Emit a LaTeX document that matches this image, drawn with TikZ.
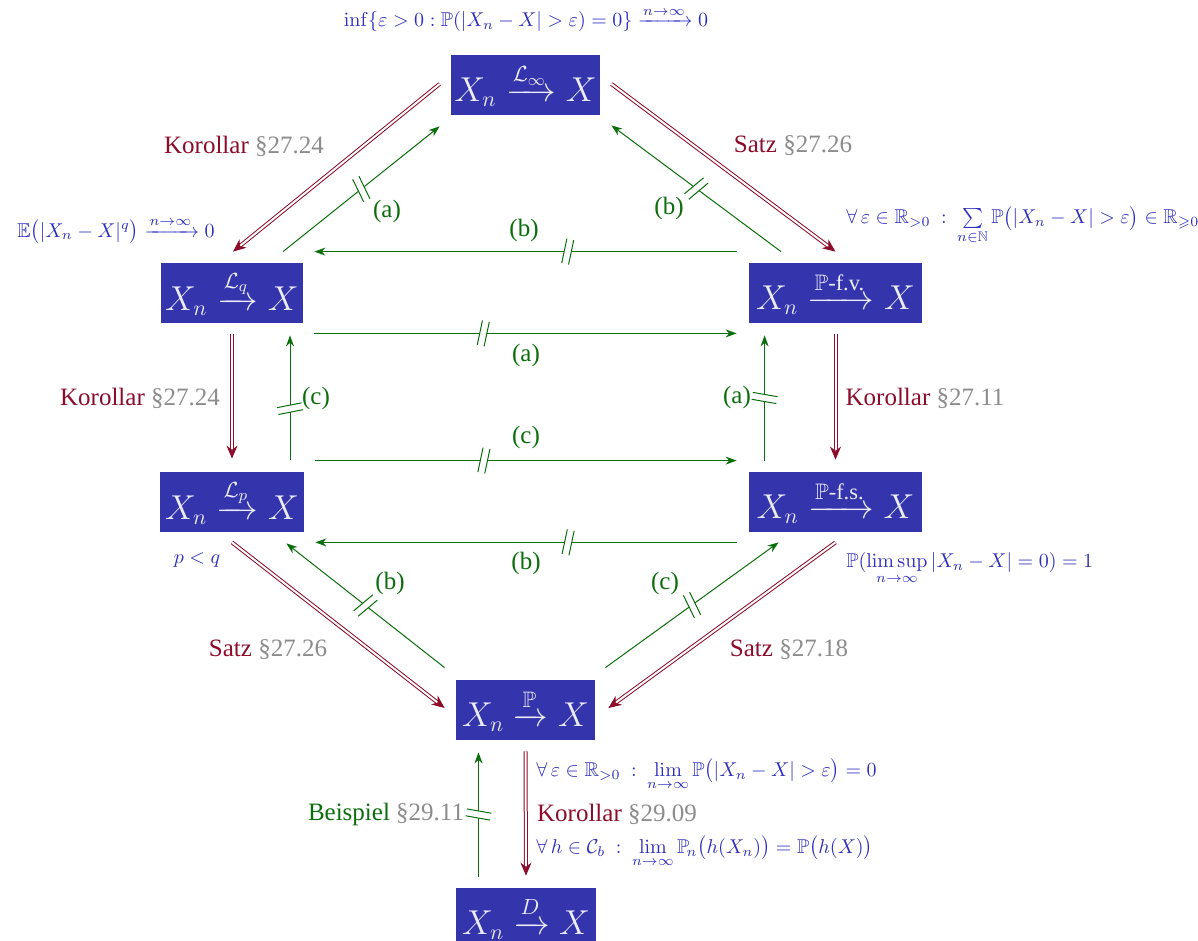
\documentclass[tikz,border=0pt]{standalone}
\usepackage{amsmath,amssymb}
\usepackage[no-math]{fontspec}
\setmainfont{Liberation Serif}
\usetikzlibrary{arrows.meta,calc}
\definecolor{boxblue}{RGB}{52,52,172}
\definecolor{boxtext}{RGB}{236,236,248}
\definecolor{annblue}{RGB}{45,45,190}
\definecolor{darkred}{RGB}{140,12,42}
\definecolor{paragray}{RGB}{140,140,140}
\definecolor{dgreen}{RGB}{10,110,10}
\tikzset{
  cbox/.style={fill=boxblue, text=boxtext, minimum height=30pt, minimum width=#1,
    inner xsep=1pt, inner ysep=1pt, font=\fontsize{16}{19}\selectfont},
  ann/.style={text=annblue, font=\normalsize, inner sep=0pt},
  reflabel/.style={font=\fontsize{12.5}{15}\selectfont, inner sep=0pt},
  glabel/.style={text=dgreen, font=\fontsize{12.5}{15}\selectfont, inner sep=0pt},
  redarr/.style={draw=darkred, double=white, double distance=1pt, line width=0.5pt,
    -{Stealth[length=6.5pt,width=5.5pt]}},
  grarr/.style={draw=dgreen, line width=0.5pt, -{Stealth[length=5.5pt,width=4pt]}},
  pics/notmark/.style={code={
    \fill[white, draw=none, rotate=#1] (-12.5,-3.5) rectangle (12.5,3.5);
    \draw[-, dgreen, line width=0.5pt, rotate=#1] (-12.5,-3.5) -- (12.5,-3.5) (-12.5,3.5) -- (12.5,3.5);
  }}
}
\newcommand{\refl}[2]{\textcolor{darkred}{#1} \textcolor{paragray}{\S#2}}
\begin{document}
\begin{tikzpicture}[x=0.5pt, y=-0.5pt]
\useasboundingbox (0,0) rectangle (1198,941);
% boxes
\node[cbox=74.5pt] (top) at (525.5,85) {$X_n \xrightarrow{\mathcal{L}_\infty} X$};
\node[cbox=71pt] (lq) at (232,293) {$X_n \xrightarrow{\mathcal{L}_q} X$};
\node[cbox=86.5pt] (pfv) at (835.5,293) {$X_n \xrightarrow{\mathbb{P}\text{-f.v.}} X$};
\node[cbox=72pt] (lp) at (232,502) {$X_n \xrightarrow{\mathcal{L}_p} X$};
\node[cbox=86.5pt] (pfs) at (835.5,502) {$X_n \xrightarrow{\mathbb{P}\text{-f.s.}} X$};
\node[cbox=69.5pt] (pp) at (525.5,710) {$X_n \xrightarrow{\mathbb{P}} X$};
\node[cbox=70pt] (dd) at (526,918) {$X_n \xrightarrow{D} X$};
% annotations
\node[ann, anchor=base] (a1) at (526,27) {$\inf\{\varepsilon>0:\mathbb{P}(|X_n-X|>\varepsilon)=0\}\xrightarrow{n\to\infty}0$};
\node[ann, anchor=base] (a2) at (116,237) {$\mathbb{E}\bigl(|X_n-X|^q\bigr)\xrightarrow{n\to\infty}0$};
\node[ann, anchor=base west] (a3) at (846,224) {$\forall\,\varepsilon\in\mathbb{R}_{>0}\ :\ \sum\limits_{n\in\mathbb{N}}\mathbb{P}\bigl(|X_n-X|>\varepsilon\bigr)\in\mathbb{R}_{\geqslant0}$};
\node[ann, anchor=base] (a4) at (197,563) {$p<q$};
\node[ann, anchor=base west] (a5) at (846,567) {$\mathbb{P}(\limsup\limits_{n\to\infty}|X_n-X|=0)=1$};
\node[ann, anchor=base west] (a6) at (536,776) {$\forall\,\varepsilon\in\mathbb{R}_{>0}\ :\ \lim\limits_{n\to\infty}\mathbb{P}\bigl(|X_n-X|>\varepsilon\bigr)=0$};
\node[ann, anchor=base west] (a7) at (536,853) {$\forall\,h\in\mathcal{C}_b\ :\ \lim\limits_{n\to\infty}\mathbb{P}_{\!n}\bigl(h(X_n)\bigr)=\mathbb{P}\bigl(h(X)\bigr)$};
% red implications
\draw[redarr] ($(top.west)+(-11,-1)$) -- ($(lq.north)+(1,-11)$);
\draw[redarr] ($(top.east)+(11,-1)$) -- ($(pfv.north)+(0,-11)$);
\draw[redarr] ($(lq.south)+(0,11)$) -- ($(lp.north)+(0,-13)$);
\draw[redarr] ($(pfv.south)+(0,11)$) -- ($(pfs.north)+(0,-12)$);
\draw[redarr] ($(lp.south)+(0,10)$) -- ($(pp.west)+(-11,-2)$);
\draw[redarr] ($(pfs.south)+(0,10)$) -- ($(pp.east)+(13,-2)$);
\draw[redarr] ($(pp.south)+(0,11)$) -- ($(dd.north)+(0,-12)$);
\node[reflabel, anchor=base] (k1) at (244,154) {\refl{Korollar}{27.24}};
\node[reflabel, anchor=base] (s1) at (793,153) {\refl{Satz}{27.26}};
\node[reflabel, anchor=base] (k2) at (140,405) {\refl{Korollar}{27.24}};
\node[reflabel, anchor=base] (k3) at (925,405) {\refl{Korollar}{27.11}};
\node[reflabel, anchor=base] (s2) at (268,656) {\refl{Satz}{27.26}};
\node[reflabel, anchor=base] (s3) at (789,656) {\refl{Satz}{27.18}};
\node[reflabel, anchor=base] (k4) at (617,821) {\refl{Korollar}{29.09}};
\node[reflabel, anchor=base, text=dgreen] (b1) at (386,820) {Beispiel \textcolor{paragray}{\S29.11}};
% green non-implications
\draw[grarr] ($(lq.north)+(51,-11)$) -- ($(top.south west)+(-11,11)$) coordinate[pos=0.5] (m1);
\draw[grarr] ($(pfv.north)+(-54.5,-11)$) -- ($(top.south east)+(11,10)$) coordinate[pos=0.5] (m2);
\draw[grarr] ($(pfv.north west)+(-12,-11)$) -- ($(lq.north east)+(11,-11)$) coordinate[pos=0.4] (m3);
\draw[grarr] ($(lq.south east)+(11,10)$) -- ($(pfv.south west)+(-12,10)$) coordinate[pos=0.4] (m4);
\draw[grarr] ($(lp.north)+(58,-12)$) -- ($(lq.south)+(58,12)$) coordinate[pos=0.41] (m5);
\draw[grarr] ($(pfs.north west)+(16,-11)$) -- ($(pfv.south west)+(16,12)$) coordinate[pos=0.5] (m6);
\draw[grarr] ($(lp.north east)+(11,-11)$) -- ($(pfs.north west)+(-12,-11)$) coordinate[pos=0.4] (m7);
\draw[grarr] ($(pfs.south west)+(-12,10)$) -- ($(lp.south east)+(11,10)$) coordinate[pos=0.4] (m8);
\draw[grarr] ($(pp.north west)+(-11,-12)$) -- ($(lp.south east)+(-18,11)$) coordinate[pos=0.5] (m9);
\draw[grarr] ($(pp.north east)+(10,-12)$) -- ($(pfs.south west)+(30,10)$) coordinate[pos=0.5] (m10);
\draw[grarr] ($(dd.north)+(-47.5,-11)$) -- ($(pp.south)+(-47,12)$) coordinate[pos=0.5] (m11);
\pic at (m1) {notmark=116};
\pic at (m2) {notmark=40};
\pic at (m3) {notmark=78};
\pic at (m4) {notmark=78};
\pic at (m5) {notmark=11};
\pic at (m6) {notmark=-10};
\pic at (m7) {notmark=78};
\pic at (m8) {notmark=78};
\pic at (m9) {notmark=40};
\pic at (m10) {notmark=116};
\pic at (m11) {notmark=-10};
\node[glabel] (l1) at (387,211) {(a)};
\node[glabel] (l2) at (669,208) {(b)};
\node[glabel] (l3) at (524,230) {(b)};
\node[glabel] (l4) at (526,355) {(a)};
\node[glabel] (l5) at (316,398) {(c)};
\node[glabel] (l6) at (737,397) {(a)};
\node[glabel] (l7) at (526,437) {(c)};
\node[glabel] (l8) at (526,563) {(b)};
\node[glabel] (l9) at (390,583) {(b)};
\node[glabel] (l10) at (665,583) {(c)};
\end{tikzpicture}
\end{document}
